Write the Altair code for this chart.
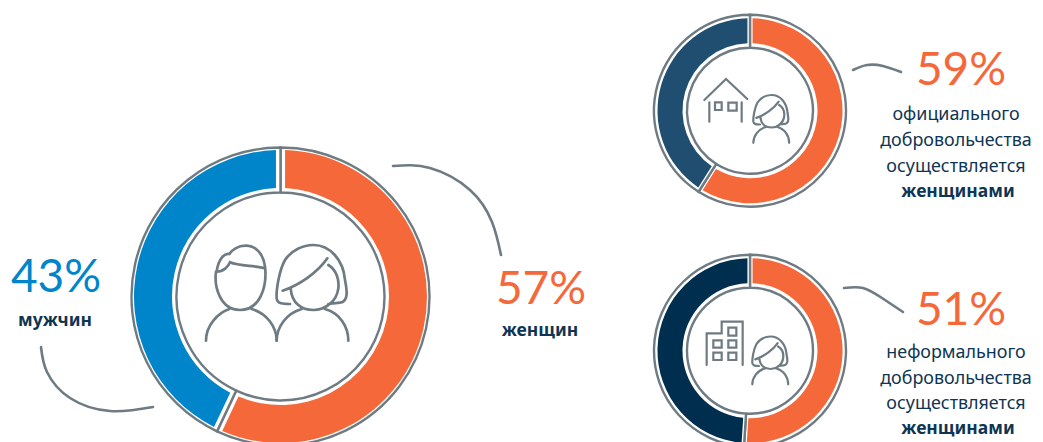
import altair as alt
import pandas as pd

W, H = 1027, 434
OX, OY = 8, 8
GRAY = "#6E7B83"
ORANGE = "#F4683A"
BLUE = "#0085CA"
STEEL = "#1F4E70"
NAVY = "#002E4F"
INK = "#0F3552"

groups = ["женщины", "мужчины", "мужчины офиц.", "мужчины неформ."]
group_colors = [ORANGE, BLUE, STEEL, NAVY]

big_names = ["женщины", "мужчины"]
big_values = [57, 43]
official_names = ["женщины", "мужчины офиц."]
official_values = [59, 41]
informal_names = ["женщины", "мужчины неформ."]
informal_values = [51, 49]

big_labels = ["43%", "57%", "59%", "51%"]
big_label_x = [56, 541, 961, 961]
big_label_y = [278, 290, 71, 311]
big_label_colors = [BLUE, ORANGE, ORANGE, ORANGE]

bold_labels = ["мужчин", "женщин", "женщинами", "женщинами"]
bold_x = [55, 540, 958, 958]
bold_y = [321, 331, 192, 429]

plain_labels = ["официального", "добровольчества", "осуществляется",
                "неформального", "добровольчества", "осуществляется"]
plain_x = [956] * 6
plain_y = [115, 141, 167, 353, 379, 404]

leader_id = ["a"] * 5 + ["b"] * 5 + ["c"] * 4 + ["d"] * 4
leader_x = [393, 430, 470, 492, 501, 41, 47, 70, 110, 153, 853, 867, 883, 901, 844, 863, 882, 903]
leader_y = [166, 168, 190, 222, 255, 347, 372, 398, 411, 407, 70, 65, 66, 72, 288, 288, 298, 312]

MAN = ("M78,125 C72,170 90,240 150,240 C210,240 232,170 225,110 C220,70 195,45 165,47 "
       "C145,47 125,60 118,72 C105,68 85,85 80,125 C100,125 115,110 120,97 C150,110 195,105 225,115 "
       "M48,332 C48,285 85,248 118,237 M185,237 C230,250 260,290 260,332")
WOMAN = ("M300,222 C280,222 262,222 260,205 C258,180 268,120 285,90 C305,60 340,45 370,45 "
         "C420,45 460,90 465,150 C470,175 478,215 450,218 L415,222 "
         "M278,182 C330,165 385,125 412,85 "
         "M415,105 C440,120 448,150 445,175 C440,215 405,240 370,240 C335,240 305,220 302,175 "
         "M260,332 C260,290 290,250 335,237 M405,237 C450,250 475,290 475,332")
HOUSE = ("M28,90 L93,27 L157,87 M43,97 L43,155 M140,97 L140,155 "
         "M60,97 L80,97 L80,120 L60,120 Z M100,98 L125,98 L125,122 L100,122 Z")
BUILDING = ("M35,150 L35,55 L80,55 L80,20 L143,20 L143,150 "
            "M100,38 L124,38 L124,62 L100,62 Z M55,76 L80,76 L80,98 L55,98 Z "
            "M100,76 L124,76 L124,98 L100,98 Z M55,113 L80,113 L80,135 L55,135 Z "
            "M100,113 L124,113 L124,135 L100,135 Z")

sx = alt.Scale(domain=[0, W], range=[0, W], nice=False, zero=False)
sy = alt.Scale(domain=[0, H], range=[0, H], nice=False, zero=False)


def X(f="x"):
    return alt.X(f"{f}:Q", scale=sx, axis=None)


def Y(f="y"):
    return alt.Y(f"{f}:Q", scale=sy, axis=None)


theta = alt.Theta("value:Q", stack=True, scale=alt.Scale(domain=[0, 100]))
color = alt.Color("group:N", legend=None, scale=alt.Scale(domain=groups, range=group_colors))


def donut(names, values, cx, cy, ring_out, ring_in, col_out, col_in, pad):
    df = pd.DataFrame({"group": names, "value": values, "o": range(len(names))})
    base = alt.Chart(df)
    enc = dict(theta=theta, order=alt.Order("o:Q"), detail="group:N",
               x=alt.value(cx - OX), y=alt.value(cy - OY))
    frame = base.mark_arc(fill="white", stroke=GRAY, strokeWidth=2.4,
                          innerRadius=ring_in, outerRadius=ring_out).encode(**enc)
    fill = base.mark_arc(innerRadius=col_in, outerRadius=col_out, padAngle=pad,
                         stroke=None).encode(color=color, **enc)
    return [frame, fill]


def icon(path, ax, ay, scale, width):
    df = pd.DataFrame({"x": [ax - OX], "y": [ay - OY]})
    return alt.Chart(df).mark_point(shape=path, size=(2 * scale) ** 2, filled=False,
                                    stroke=GRAY, strokeWidth=width, opacity=1,
                                    strokeCap="round").encode(x=X(), y=Y())


def labels(texts, xs, ys, size, weight, col, font="Noto Sans", style=None):
    df = pd.DataFrame({"t": texts, "x": [v - OX for v in xs], "y": [v - OY for v in ys]})
    kw = dict(fontStyle=style) if style else {}
    return alt.Chart(df).mark_text(font=font, fontSize=size, fontWeight=weight, color=col,
                                   align="center", baseline="middle", **kw).encode(
        x=X(), y=Y(), text="t:N")


layers = []
layers += donut(big_names, big_values, 280.5, 296.5, 149, 104, 146.5, 108.5, 0.05)
layers += donut(official_names, official_values, 750, 110.7, 96, 63, 92.5, 67.5, 0.045)
layers += donut(informal_names, informal_values, 750, 350.7, 96, 63, 92.5, 67.5, 0.045)

leaders = pd.DataFrame({"id": leader_id, "x": [v - OX for v in leader_x],
                        "y": [v - OY for v in leader_y], "i": range(len(leader_x))})
layers.append(alt.Chart(leaders).mark_line(color=GRAY, strokeWidth=2.6, interpolate="natural",
                                           strokeCap="round").encode(
    x=X(), y=Y(), detail="id:N", order="i:Q"))

layers.append(icon(MAN, 190, 230, 1 / 3, 2.7))
layers.append(icon(WOMAN, 190, 230, 1 / 3, 2.7))
layers.append(icon(HOUSE, 695, 70, 1 / 3, 2.2))
layers.append(icon(WOMAN, 710, 87.5, 1 / 6, 2.2))
layers.append(icon(BUILDING, 695, 315, 1 / 3, 2.2))
layers.append(icon(WOMAN, 709, 329, 1 / 6, 2.2))

for t, x, y, c in zip(big_labels, big_label_x, big_label_y, big_label_colors):
    layers.append(labels([t], [x], [y], 46, 400, c, font="Lato"))
layers.append(labels(bold_labels, bold_x, bold_y, 17.5, 700, INK))
layers.append(labels(plain_labels, plain_x, plain_y, 17.9, 400, INK))

chart = alt.layer(*layers).properties(
    width=W, height=H, padding=0, autosize=alt.AutoSizeParams(type="none"),
    background="white"
).configure_view(stroke=None)

chart.save("out.html", embed_options={"renderer": "svg", "actions": False})
